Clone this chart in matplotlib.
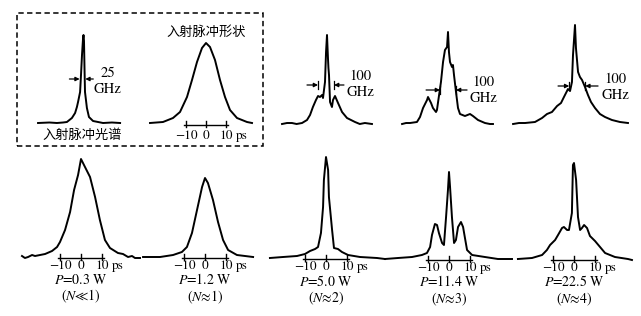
import matplotlib
matplotlib.use("Agg")
import matplotlib.pyplot as plt
from matplotlib.patches import Rectangle

W, H = 641, 316

plt.rcParams["mathtext.fontset"] = "stix"
LATIN = "STIXGeneral"
CJK = "Noto Sans CJK SC"

# =============================
# Data (relative intensity)
# =============================
# top row: incident spectrum (GHz offset)
spec_in_f = [-200, -150, -117, -90, -73, -51, -37, -29, -24, -15, -11, -6.6,
             -2.2, 0, 2.2, 4.4, 6.6, 15, 24, 42, 86, 125, 161]
spec_in_i = [0.0, 0.005, 0.0, 0.005, 0.01, 0.05, 0.10, 0.16, 0.21, 0.31, 0.48, 0.68,
             0.84, 0.88, 0.82, 0.55, 0.31, 0.15, 0.06, 0.02, 0.0, 0.005, 0.0]

# top row: incident pulse shape (ps)
pulse_in_t = [-28, -21.5, -16.5, -13, -9.5, -7, -4.5, -2, 0, 2, 4.5, 7, 9.5, 12,
              15.5, 20.5, 23]
pulse_in_i = [0.0, 0.01, 0.05, 0.11, 0.26, 0.43, 0.61, 0.75, 0.80, 0.76, 0.63,
              0.43, 0.26, 0.13, 0.05, 0.01, 0.0]

# top row: output spectra at P = 5.0, 11.4, 22.5 W
spec_p5_f = [-281, -250, -219, -190, -156, -125, -106, -88, -69, -56, -44, -31, -25,
             -12.5, -6, 0, 6, 9, 12.5, 19, 31, 37.5, 50, 69, 94, 125, 175, 205, 237, 281]
spec_p5_i = [0.0, 0.01, 0.01, 0.0, 0.01, 0.04, 0.09, 0.17, 0.24, 0.28, 0.27, 0.29, 0.26,
             0.42, 0.72, 0.89, 0.66, 0.56, 0.49, 0.22, 0.17, 0.24, 0.28, 0.21, 0.12,
             0.06, 0.02, 0.0, 0.01, 0.0]

spec_p11_f = [-287, -262, -237, -194, -175, -156, -131, -125, -106, -94, -75, -69, -62,
              -44, -31, -19, -6, 0, 6, 12.5, 25, 31, 37.5, 50, 62.5, 75, 106, 137.5,
              156, 187.5, 231, 262, 281]
spec_p11_i = [0.0, 0.01, 0.01, 0.02, 0.07, 0.16, 0.24, 0.27, 0.21, 0.16, 0.12, 0.14, 0.22,
              0.42, 0.62, 0.74, 0.77, 0.92, 0.72, 0.62, 0.57, 0.59, 0.49, 0.32, 0.16,
              0.10, 0.08, 0.10, 0.08, 0.04, 0.01, 0.0, 0.0]

spec_p22_f = [-387, -350, -312, -250, -206, -175, -144, -112, -87.5, -69, -50, -44, -31,
              -19, -12.5, 0, 6, 19, 31, 44, 62.5, 81, 100, 125, 156, 187.5, 231, 281, 331]
spec_p22_i = [0.0, 0.01, 0.01, 0.02, 0.06, 0.10, 0.12, 0.18, 0.21, 0.27, 0.33, 0.35, 0.33,
              0.42, 0.69, 0.99, 0.76, 0.52, 0.47, 0.44, 0.37, 0.29, 0.22, 0.16, 0.10,
              0.07, 0.04, 0.02, 0.01]

# bottom row: output pulse shapes (ps)
pulse_p03_t = [-28.1, -26.7, -25.2, -23.3, -21.9, -19.5, -17.1, -13.8, -11.4, -10, -7.6,
               -5.2, -3.3, -1.4, 0, 1.9, 4.3, 6.7, 9.0, 11.4, 13.8, 17.6, 20, 22.4,
               24.3, 25.7, 28.1]
pulse_p03_i = [0.01, -0.01, 0.0, 0.02, 0.01, 0.02, 0.03, 0.06, 0.10, 0.15, 0.27, 0.45,
               0.67, 0.82, 0.98, 0.90, 0.80, 0.60, 0.37, 0.17, 0.09, 0.04, 0.03, 0.0,
               0.01, -0.01, -0.01]

pulse_p12_t = [-29.5, -21.4, -15.2, -11, -8.6, -6.2, -3.8, -1.4, 0, 1.4, 3.8, 6.2, 8.6,
               11, 15.2, 22.9]
pulse_p12_i = [0.0, 0.0, 0.02, 0.05, 0.10, 0.24, 0.47, 0.70, 0.79, 0.74, 0.57, 0.35,
               0.17, 0.07, 0.02, 0.0]

pulse_p50_t = [-26.7, -20.5, -13.8, -10, -7.6, -5.2, -3.8, -2.4, -1.4, -1.0, 0, 1.0,
               1.4, 2.9, 3.8, 5.7, 7.6, 10.5, 16.2, 24.3, 28.1]
pulse_p50_i = [0.0, 0.01, 0.02, 0.04, 0.07, 0.09, 0.11, 0.25, 0.51, 0.78, 1.01, 0.88,
               0.61, 0.28, 0.10, 0.09, 0.06, 0.03, 0.01, 0.0, -0.01]

pulse_p114_t = [-30.5, -24.3, -17.6, -12.9, -10.5, -9.0, -8.1, -6.7, -5.7, -4.8, -3.3,
                -2.4, -1.4, -0.5, 0, 0.5, 1.4, 2.4, 3.3, 4.3, 5.7, 6.7, 7.6, 8.6, 11.0,
                17.1, 23.3, 30.0]
pulse_p114_i = [0.0, 0.01, 0.02, 0.04, 0.06, 0.12, 0.24, 0.35, 0.34, 0.26, 0.16, 0.14,
                0.42, 0.69, 0.87, 0.72, 0.42, 0.16, 0.19, 0.32, 0.37, 0.32, 0.21, 0.09,
                0.04, 0.02, 0.0, 0.0]

pulse_p225_t = [-26.7, -20.0, -15.2, -12.9, -11.4, -9.0, -7.6, -5.7, -4.8, -3.3, -2.4,
                -1.0, -0.5, 0, 1.0, 1.9, 2.9, 3.8, 4.8, 6.2, 7.6, 10.0, 12.4, 14.8,
                19.5, 25.7, 27.6]
pulse_p225_i = [0.0, 0.01, 0.04, 0.09, 0.14, 0.19, 0.24, 0.31, 0.32, 0.29, 0.29, 0.46,
                0.94, 0.96, 0.79, 0.42, 0.29, 0.31, 0.34, 0.31, 0.23, 0.18, 0.12, 0.06,
                0.02, 0.0, -0.01]

powers = ["0.3", "1.2", "5.0", "11.4", "22.5"]
orders = ["≪1", "≈1", "≈2", "≈3", "≈4"]
time_ticks = [-10, 0, 10]
time_tick_labels = ["\u221210", "0", "10"]
widths = ["25", "100", "100", "100"]


# =============================
# Helpers
# =============================
def add_panel(fig, cx, base, ppu, left, right, top=115, bottom=45):
    """Axes whose data unit maps to `ppu` px horizontally, 100 px per unit vertically."""
    ax = fig.add_axes([left / W, 1 - (base + bottom) / H,
                       (right - left) / W, (top + bottom) / H])
    ax.set_xlim((left - cx) / ppu, (right - cx) / ppu)
    ax.set_ylim(-bottom / 100, top / 100)
    ax.axis("off")
    return ax


def draw_curve(ax, x, y):
    ax.plot(x, y, color="k", lw=1.4, solid_joinstyle="round", clip_on=False)


def time_axis(ax, y_line=-0.01, y_lab=-0.095, ps_x=14.5):
    ax.plot([-11, 11], [y_line, y_line], color="k", lw=1.0, clip_on=False)
    for t, lab in zip(time_ticks, time_tick_labels):
        ax.plot([t, t], [y_line - 0.02, y_line + 0.04], color="k", lw=1.0, clip_on=False)
        ax.text(t, y_lab, lab, ha="center", va="center", fontsize=9.5, family=LATIN)
    ax.text(ps_x, y_lab, "ps", ha="left", va="center", fontsize=9.5, family=LATIN)


def width_marker(ax, lo, hi, y, tail_lo, tail_hi, bars=True):
    style = dict(arrowstyle="-|>", color="k", lw=0.9, mutation_scale=6,
                 shrinkA=0, shrinkB=0)
    ax.annotate("", xy=(lo, y), xytext=(tail_lo, y), arrowprops=style)
    ax.annotate("", xy=(hi, y), xytext=(tail_hi, y), arrowprops=style)
    if bars:
        ax.plot([lo, lo], [y - 0.04, y + 0.04], color="k", lw=0.9, clip_on=False)
        ax.plot([hi, hi], [y - 0.04, y + 0.04], color="k", lw=0.9, clip_on=False)


def width_label(ax, x, y_mid, num):
    ax.text(x, y_mid, f"{num}\nGHz", ha="center", va="center", fontsize=10.5,
            family=LATIN, linespacing=1.25)


fig = plt.figure(figsize=(W / 100, H / 100), dpi=100)

# =============================
# Top row
# =============================
ax = add_panel(fig, 83.5, 123, 1 / 4.4, 35, 125)
draw_curve(ax, spec_in_f, spec_in_i)
width_marker(ax, -17, 8, 0.44, -62, 43, bars=False)
width_label(ax, 106, 0.415, widths[0])
ax.text(-6.6, -0.12, "入射脉冲光谱", ha="center", va="center", fontsize=9.5, family=CJK)

ax = add_panel(fig, 206, 123, 2.0, 145, 255)
draw_curve(ax, pulse_in_t, pulse_in_i)
time_axis(ax, y_line=-0.02, y_lab=-0.13, ps_x=15)
ax.text(0, 0.91, "入射脉冲形状", ha="center", va="center", fontsize=9.5, family=CJK)

ax = add_panel(fig, 327, 124, 0.16, 278, 376)
draw_curve(ax, spec_p5_f, spec_p5_i)
width_marker(ax, -56, 44, 0.39, -125, 106)
width_label(ax, 206, 0.395, widths[1])

ax = add_panel(fig, 448, 124, 0.16, 398, 497)
draw_curve(ax, spec_p11_f, spec_p11_i)
width_marker(ax, -50, 50, 0.34, -137, 119)
width_label(ax, 219, 0.34, widths[2])

ax = add_panel(fig, 575, 124, 0.16, 508, 632)
draw_curve(ax, spec_p22_f, spec_p22_i)
width_marker(ax, -36, 64, 0.38, -106, 144)
width_label(ax, 250, 0.365, widths[3])

# dashed frame around the incident pulse panels
fig.add_artist(Rectangle((17 / W, 1 - 146 / H), (263 - 17) / W, (146 - 13) / H,
                         transform=fig.transFigure, fill=False, color="k",
                         lw=1.1, ls=(0, (3.5, 2.2))))

# =============================
# Bottom row
# =============================
bottom_curves = [
    (pulse_p03_t, pulse_p03_i, 81, 257, 18, 144),
    (pulse_p12_t, pulse_p12_i, 205, 257, 140, 256),
    (pulse_p50_t, pulse_p50_i, 326, 258, 268, 388),
    (pulse_p114_t, pulse_p114_i, 449, 259, 383, 515),
    (pulse_p225_t, pulse_p225_i, 574, 259, 515, 636),
]

for (t, i, cx, base, left, right), p, n in zip(bottom_curves, powers, orders):
    ax = add_panel(fig, cx, base, 2.1, left, right)
    draw_curve(ax, t, i)
    time_axis(ax)
    ax.text(0, -0.155, f"$P$={p} W\n($N${n})", ha="center", va="top",
            fontsize=10, family=LATIN, linespacing=1.05)

fig.savefig("out.png", dpi=100)
